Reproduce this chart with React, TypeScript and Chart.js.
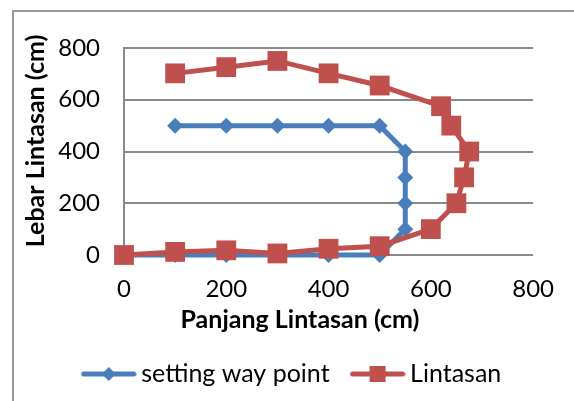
import React, { useEffect, useRef } from "react";
import { Chart, registerables } from "chart.js";

Chart.register(...registerables);

const waypointX = [0, 100, 200, 300, 400, 500, 550, 550, 550, 550, 500, 400, 300, 200, 100];
const waypointY = [0, 0, 0, 0, 0, 0, 100, 200, 300, 400, 500, 500, 500, 500, 500];
const lintasanX = [0, 100, 200, 300, 400, 500, 600, 650, 665, 675, 640, 620, 500, 400, 300, 200, 100];
const lintasanY = [0, 12, 18, 6, 24, 34, 100, 200, 300, 400, 500, 575, 655, 702, 750, 726, 702];
const xTicks = [0, 200, 400, 600, 800];
const yTicks = [0, 200, 400, 600, 800];
const seriesNames = ["setting way point", "Lintasan"];
const xTitle = "Panjang Lintasan (cm)";
const yTitle = "Lebar Lintasan (cm)";

const BLUE = "#4A7EBB";
const RED = "#C0504D";
const GRID = "#8a8a8a";
const FONT = "Lato";

function makeIcon(color: string, kind: "diamond" | "square"): HTMLCanvasElement {
  const c = document.createElement("canvas");
  c.width = 72;
  c.height = 22;
  const g = c.getContext("2d")!;
  g.strokeStyle = color;
  g.lineWidth = 5;
  g.lineCap = "round";
  g.beginPath();
  g.moveTo(19, 11);
  g.lineTo(69, 11);
  g.stroke();
  g.fillStyle = color;
  const cx = 44;
  if (kind === "diamond") {
    g.beginPath();
    g.moveTo(cx - 7, 11);
    g.lineTo(cx, 4);
    g.lineTo(cx + 7, 11);
    g.lineTo(cx, 18);
    g.closePath();
    g.fill();
  } else {
    g.fillRect(cx - 8, 3, 16, 16);
  }
  return c;
}

const titlePlugin = {
  id: "axisTitles",
  afterDraw(chart: any) {
    const ctx = chart.ctx;
    ctx.save();
    ctx.fillStyle = "#000";
    ctx.font = `bold 25px ${FONT}`;
    ctx.textAlign = "center";
    ctx.textBaseline = "middle";
    ctx.fillText(xTitle, 300, 320);
    ctx.translate(36, 141);
    ctx.rotate(-Math.PI / 2);
    ctx.fillText(yTitle, 0, 0);
    ctx.restore();
  },
};

export default function App() {
  const ref = useRef<HTMLCanvasElement>(null);
  useEffect(() => {
    if (!ref.current) return;
    const icons = [makeIcon(BLUE, "diamond"), makeIcon(RED, "square")];
    const chart = new Chart(ref.current, {
      type: "scatter",
      data: {
        datasets: [
          {
            label: seriesNames[0],
            data: waypointX.map((x, i) => ({ x, y: waypointY[i] })),
            showLine: true,
            borderColor: BLUE,
            backgroundColor: BLUE,
            borderWidth: 5,
            pointStyle: "rectRot",
            pointRadius: 8,
            pointBorderWidth: 0,
            clip: false,
            order: 1,
          },
          {
            label: seriesNames[1],
            data: lintasanX.map((x, i) => ({ x, y: lintasanY[i] })),
            showLine: true,
            borderColor: RED,
            backgroundColor: RED,
            borderWidth: 5,
            pointStyle: "rect",
            pointRadius: 14,
            pointBorderWidth: 0,
            clip: false,
            order: 0,
          },
        ],
      },
      options: {
        responsive: false,
        animation: false,
        layout: { padding: { left: 0, right: 0, top: 48, bottom: 4.5 } },
        plugins: {
          tooltip: { enabled: false },
          legend: {
            position: "bottom",
            labels: {
              usePointStyle: true,
              pointStyleWidth: 56,
              padding: 12,
              color: "#000",
              font: { family: FONT, size: 25 },
              generateLabels: () =>
                seriesNames.map((name, i) => ({
                  text: name,
                  pointStyle: icons[i] as any,
                  fillStyle: i === 0 ? BLUE : RED,
                  strokeStyle: i === 0 ? BLUE : RED,
                  lineWidth: 0,
                  hidden: false,
                  datasetIndex: i,
                })),
            },
          },
        },
        scales: {
          x: {
            type: "linear",
            min: 0,
            max: 800,
            afterBuildTicks: (s: any) => {
              s.ticks = xTicks.map((v) => ({ value: v }));
            },
            afterFit: (s: any) => {
              s.height = 94.5;
            },
            grid: { display: false, drawTicks: false },
            border: { display: false },
            ticks: {
              color: "#000",
              font: { family: FONT, size: 24 },
              padding: 20,
              maxRotation: 0,
            },
          },
          y: {
            type: "linear",
            min: 0,
            max: 800,
            afterBuildTicks: (s: any) => {
              s.ticks = yTicks.map((v) => ({ value: v }));
            },
            afterFit: (s: any) => {
              s.width = 124;
            },
            grid: { color: GRID, lineWidth: 2, drawTicks: false },
            border: { display: true, color: GRID, width: 2 },
            ticks: {
              color: "#000",
              font: { family: FONT, size: 24 },
              padding: 24,
            },
          },
          spacer: {
            type: "linear",
            position: "right",
            display: true,
            afterFit: (s: any) => {
              s.width = 38;
            },
            grid: { display: false, drawTicks: false },
            border: { display: false },
            ticks: { display: false },
          },
        },
      },
      plugins: [titlePlugin],
    });
    return () => chart.destroy();
  }, []);

  return (
    <div style={{ position: "absolute", left: 0, top: 0, width: 574, height: 401, background: "#fff", overflow: "hidden" }}>
      <div
        style={{
          position: "absolute",
          left: 12,
          top: 10,
          width: 700,
          height: 500,
          borderLeft: "2px solid #9a9a9a",
          borderTop: "2px solid #9a9a9a",
        }}
      />
      <canvas ref={ref} width={574} height={401} style={{ position: "absolute", left: 0, top: 0, display: "block" }} />
    </div>
  );
}
